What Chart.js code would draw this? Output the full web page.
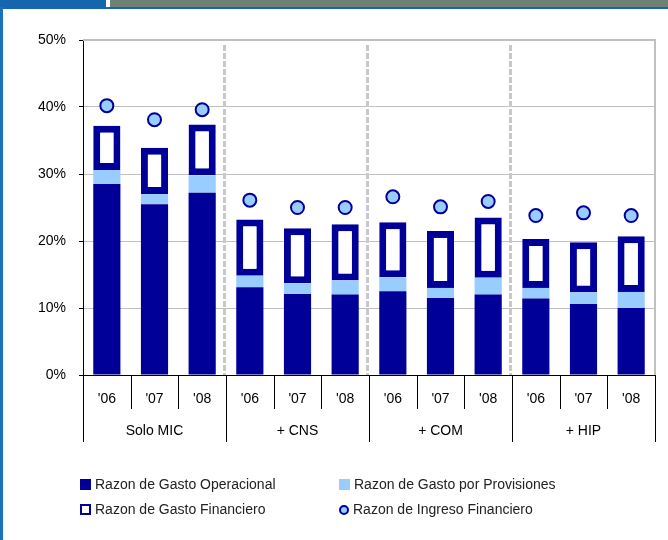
<!DOCTYPE html>
<html>
<head>
<meta charset="utf-8">
<script src="https://cdn.jsdelivr.net/npm/chart.js@4/dist/chart.umd.min.js"></script>
<style>
  body { margin: 0; background: #fff; font-family: "Liberation Sans", Arial, sans-serif; }
  #frame { position: relative; width: 668px; height: 540px; overflow: hidden; }
  #barBlue { position: absolute; left: 0; top: 0; width: 106px; height: 7px; background: #1566ac; }
  #barGrey { position: absolute; left: 110px; top: 0; width: 558px; height: 7px; background: #6d8176; }
  #lineBlue { position: absolute; left: 0; top: 7px; width: 668px; height: 2px; background: #1566ac; }
  #sideBlue { position: absolute; left: 0; top: 7px; width: 3px; height: 533px; background: #1b74bb; }
  #chartBox { position: absolute; left: 0; top: 0; width: 668px; height: 540px; }
  #legend { position: absolute; left: 80px; top: 476px; width: 560px; font-size: 14px; color: #222; }
  .item { position: absolute; white-space: nowrap; line-height: 16px; }
  .sw { display: inline-block; width: 11px; height: 11px; vertical-align: -1px; margin-right: 4px; box-sizing: border-box; }
  .dot { border-radius: 50%; width: 10px; height: 10px; }
</style>
</head>
<body>
<div id="frame">
  <div id="chartBox"><canvas id="graphCanvas" width="668" height="540"></canvas></div>
  <div id="barBlue"></div>
  <div id="barGrey"></div>
  <div id="lineBlue"></div>
  <div id="sideBlue"></div>
  <div id="legend"></div>
</div>
<script>
const categories = ["'06", "'07", "'08", "'06", "'07", "'08", "'06", "'07", "'08", "'06", "'07", "'08"];
const groups = ['Solo MIC', '+ CNS', '+ COM', '+ HIP'];

const gastoOperacional = [28.5, 25.5, 27.2, 13.1, 12.1, 12.0, 12.5, 11.5, 12.0, 11.4, 10.6, 10.0];
const gastoProvisiones = [2.1, 1.5, 2.6, 1.7, 1.6, 2.1, 2.1, 1.5, 2.5, 1.6, 1.7, 2.4];
const gastoFinanciero = [6.6, 6.9, 7.6, 8.4, 8.2, 8.4, 8.2, 8.5, 9.0, 7.3, 7.5, 8.3];
const ingresoFinanciero = [40.2, 38.1, 39.6, 26.1, 25.0, 25.0, 26.6, 25.1, 25.9, 23.8, 24.2, 23.8];

const yTicks = [0, 10, 20, 30, 40, 50];

const navy = '#000099';
const light = '#99ccff';
const font = '"Liberation Sans", Arial, sans-serif';

// axis labels, separators and dashed group lines
const axisPlugin = {
    id: 'axisPlugin',
    beforeDatasetsDraw(chart) {
        const ctx = chart.ctx;
        const x = chart.scales.x;
        const area = chart.chartArea;
        const half = (x.getPixelForValue(1) - x.getPixelForValue(0)) / 2;
        ctx.save();
        // plot border top and right
        ctx.strokeStyle = '#c0c0c0';
        ctx.lineWidth = 2;
        ctx.beginPath();
        ctx.moveTo(area.left, area.top);
        ctx.lineTo(area.right, area.top);
        ctx.lineTo(area.right, area.bottom);
        ctx.stroke();
        // dashed lines between groups
        ctx.lineWidth = 3;
        ctx.setLineDash([6, 2]);
        ctx.strokeStyle = '#c8c8c8';
        for (let g = 1; g < groups.length; g++) {
            const px = Math.round(x.getPixelForValue(g * 3) - half) - 1.5;
            ctx.beginPath();
            ctx.moveTo(px, area.top + 5);
            ctx.lineTo(px, area.bottom);
            ctx.stroke();
        }
        ctx.restore();
    },
    afterDraw(chart) {
        const ctx = chart.ctx;
        const x = chart.scales.x;
        const area = chart.chartArea;
        const half = (x.getPixelForValue(1) - x.getPixelForValue(0)) / 2;
        ctx.save();
        ctx.strokeStyle = '#000';
        ctx.lineWidth = 1;
        ctx.fillStyle = '#000';
        ctx.font = '14px ' + font;
        ctx.textAlign = 'center';
        ctx.textBaseline = 'middle';
        for (let i = 0; i <= categories.length; i++) {
            const px = Math.round(x.getPixelForValue(i) - half) + 0.5;
            const len = (i % 3 === 0) ? 67 : 34;
            ctx.beginPath();
            ctx.moveTo(px, area.bottom);
            ctx.lineTo(px, area.bottom + len);
            ctx.stroke();
            if (i < categories.length) {
                ctx.fillText(categories[i], x.getPixelForValue(i), area.bottom + 24);
            }
        }
        groups.forEach((g, k) => {
            ctx.fillText(g, x.getPixelForValue(k * 3 + 1), area.bottom + 56);
        });
        ctx.restore();
    }
};

function initChart() {
    const ctx = document.getElementById('graphCanvas').getContext('2d');
    new Chart(ctx, {
        type: 'bar',
        data: {
            labels: categories,
            datasets: [{
                type: 'line',
                label: 'Razon de Ingreso Financiero',
                data: ingresoFinanciero,
                showLine: false,
                pointRadius: 6.5,
                pointBorderWidth: 2,
                pointBackgroundColor: light,
                pointBorderColor: navy,
                stack: 'income',
                order: 0
            }, {
                label: 'Razon de Gasto Operacional',
                data: gastoOperacional,
                backgroundColor: navy,
                stack: 'gastos',
                order: 1
            }, {
                label: 'Razon de Gasto por Provisiones',
                data: gastoProvisiones,
                backgroundColor: light,
                stack: 'gastos',
                order: 1
            }, {
                label: 'Razon de Gasto Financiero',
                data: gastoFinanciero,
                backgroundColor: '#ffffff',
                borderColor: navy,
                borderWidth: 7,
                borderSkipped: false,
                stack: 'gastos',
                order: 1
            }]
        },
        options: {
            responsive: false,
            animation: false,
            barPercentage: 0.57,
            categoryPercentage: 1,
            layout: { padding: { top: 40, right: 13, left: 0, bottom: 0 } },
            scales: {
                x: {
                    stacked: true,
                    grid: { display: false },
                    ticks: { display: false },
                    border: { color: '#000', width: 1 },
                    afterFit(scale) { scale.height = 165; }
                },
                y: {
                    stacked: true,
                    min: 0,
                    max: 50,
                    afterBuildTicks(scale) { scale.ticks = yTicks.map(v => ({ value: v })); },
                    ticks: {
                        color: '#000',
                        padding: 13,
                        font: { family: font, size: 14 },
                        callback: v => v + '%'
                    },
                    grid: { color: '#c0c0c0', tickColor: '#000', tickLength: 4 },
                    border: { color: '#000', width: 1 },
                    afterFit(scale) { scale.width = 83; }
                }
            },
            plugins: {
                legend: { display: false },
                tooltip: { enabled: false }
            }
        },
        plugins: [axisPlugin]
    });
}

function buildLegend() {
    const items = [
        { text: 'Razon de Gasto Operacional', style: 'background:' + navy, left: 0, top: 0 },
        { text: 'Razon de Gasto por Provisiones', style: 'background:' + light, left: 259, top: 0 },
        { text: 'Razon de Gasto Financiero', style: 'background:#fff;border:2px solid ' + navy, left: 0, top: 25 },
        { text: 'Razon de Ingreso Financiero', style: 'background:' + light + ';border:2.5px solid ' + navy, left: 259, top: 25, dot: true }
    ];
    const box = document.getElementById('legend');
    items.forEach(it => {
        const d = document.createElement('div');
        d.className = 'item';
        d.style.left = it.left + 'px';
        d.style.top = it.top + 'px';
        d.innerHTML = '<span class="sw' + (it.dot ? ' dot' : '') + '" style="' + it.style + '"></span>' + it.text;
        box.appendChild(d);
    });
}

document.addEventListener('DOMContentLoaded', function() {
    initChart();
    buildLegend();
});
</script>
</body>
</html>
